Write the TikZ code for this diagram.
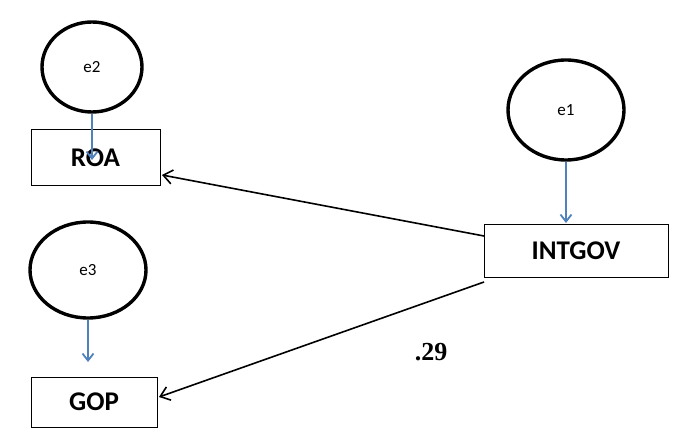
\documentclass[tikz,border=0pt]{standalone}
\usepackage{fontspec}
\setmainfont{Carlito}
\newfontfamily\serifb{Liberation Serif}
\usetikzlibrary{arrows.meta,shapes.geometric}
\definecolor{arrblue}{HTML}{4F81BD}
\begin{document}
\begin{tikzpicture}[x=1pt,y=-1pt,
  err/.style={draw,ellipse,line width=3.4pt,font=\fontsize{17}{19}\selectfont},
  box/.style={draw,line width=1pt,font=\bfseries\fontsize{27}{29}\selectfont,inner sep=0},
  blu/.style={draw=arrblue,line width=1.8pt,-{Straight Barb[length=7pt,width=11pt]}},
  blk/.style={line width=1.6pt,-{Straight Barb[length=9pt,width=14pt]}}]
\useasboundingbox (0,0) rectangle (692,435);
\node[err,minimum width=100pt,minimum height=90pt] (e2) at (92,67) {e2};
\node[err,minimum width=116pt,minimum height=96pt] (e3) at (88,270) {e3};
\node[err,minimum width=116pt,minimum height=100pt] (e1) at (566,110) {e1};
\node[box,minimum width=129pt,minimum height=56pt] (roa) at (95.5,158) {ROA};
\node[box,minimum width=126pt,minimum height=50pt] (gop) at (94,402) {GOP};
\node[box,minimum width=184pt,minimum height=52pt] (int) at (576,251) {INTGOV};
\coordinate (a1) at (92,160); \coordinate (a3) at (88,362); \coordinate (a0) at (566,223);
\draw[blu] (e2.south) -- (a1);
\draw[blu] (e3.south) -- (a3);
\draw[blu] (e1.south) -- (a0);
\coordinate (s1) at (484,236); \coordinate (t1) at (162,175);
\coordinate (s2) at (484,282); \coordinate (t2) at (159,397);
\draw[blk] (s1) -- (t1);
\draw[blk] (s2) -- (t2);
\node[font=\serifb\bfseries\fontsize{26}{28}\selectfont] (lab) at (431,352) {.29};
\end{tikzpicture}
\end{document}
